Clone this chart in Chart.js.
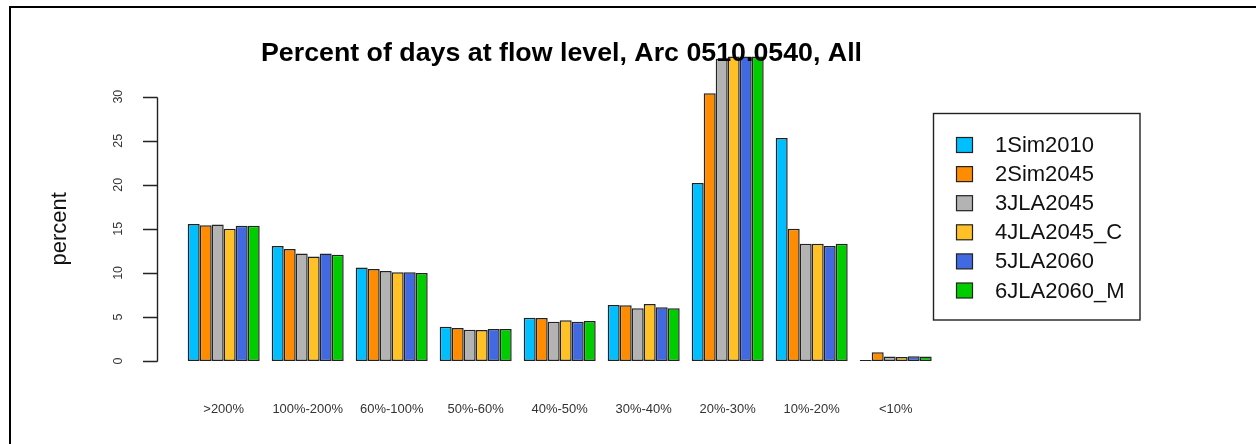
<!DOCTYPE html>
<html>
<head>
<meta charset="utf-8">
<script src="https://cdn.jsdelivr.net/npm/chart.js@4"></script>
<style>
  html, body { margin: 0; padding: 0; background: #ffffff; }
  #wrap { width: 1256px; height: 444px; position: relative; }
</style>
</head>
<body>
<div id="wrap"><canvas id="c" width="1256" height="444"></canvas></div>
<script>
// Flow-level classes and the percent of days in each, per scenario
const categories = [">200%", "100%-200%", "60%-100%", "50%-60%", "40%-50%", "30%-40%", "20%-30%", "10%-20%", "<10%"];
const seriesNames = ["1Sim2010", "2Sim2045", "3JLA2045", "4JLA2045_C", "5JLA2060", "6JLA2060_M"];
const sim2010   = [15.55, 13.05, 10.6, 3.9, 4.92, 6.36, 20.2, 25.3, 0.1];
const sim2045   = [15.4, 12.7, 10.45, 3.75, 4.88, 6.32, 30.4, 15.0, 1.0];
const jla2045   = [15.5, 12.2, 10.2, 3.55, 4.46, 5.98, 34.3, 13.3, 0.5];
const jla2045C  = [15.0, 11.85, 10.07, 3.52, 4.62, 6.47, 34.55, 13.3, 0.45];
const jla2060   = [15.35, 12.2, 10.07, 3.63, 4.46, 6.1, 34.55, 13.05, 0.55];
const jla2060M  = [15.35, 12.05, 10.0, 3.63, 4.54, 5.98, 34.55, 13.3, 0.5];
const yTicks = [0, 5, 10, 15, 20, 25, 30];
const titleText = "Percent of days at flow level, Arc 0510.0540, All";
const yTitle = "percent";

const seriesValues = [sim2010, sim2045, jla2045, jla2045C, jla2060, jla2060M];
const colors = ["#00BFFF", "#FF8C00", "#B3B3B3", "#FFC125", "#4169E1", "#00CD00"];

const FONT = "'Liberation Sans', Arial, Helvetica, sans-serif";

// text drawn with a slight horizontal stretch, as in the original device output
function wideText(ctx, text, x, y, hScale) {
  ctx.save();
  ctx.translate(x, y);
  ctx.scale(hScale, 1);
  ctx.fillText(text, 0, 0);
  ctx.restore();
}

// Axes, labels, title, legend and frame drawn in the style of a base-graphics barplot
const decorations = {
  id: "decorations",
  afterDraw(chart) {
    const ctx = chart.ctx;
    const y = chart.scales.y;
    const x = chart.scales.x;
    ctx.save();

    // outer frame (top and left edges)
    ctx.strokeStyle = "#000";
    ctx.lineWidth = 2;
    ctx.beginPath();
    ctx.moveTo(10, 444);
    ctx.lineTo(10, 7);
    ctx.lineTo(1256, 7);
    ctx.stroke();

    // title
    ctx.fillStyle = "#000";
    ctx.font = "bold 25px " + FONT;
    ctx.textAlign = "center";
    ctx.textBaseline = "middle";
    const tw = ctx.measureText(titleText).width;
    wideText(ctx, titleText, 561.5, 54, 601 / tw);

    // y axis line and ticks
    const axX = 157.5;
    const yTop = y.getPixelForValue(yTicks[yTicks.length - 1]);
    const yBot = y.getPixelForValue(yTicks[0]);
    ctx.strokeStyle = "#222";
    ctx.lineWidth = 1.4;
    ctx.beginPath();
    ctx.moveTo(axX, Math.round(yTop) + 0.5);
    ctx.lineTo(axX, Math.round(yBot) + 0.5);
    yTicks.forEach(v => {
      const py = Math.round(y.getPixelForValue(v)) + 0.5;
      ctx.moveTo(axX, py);
      ctx.lineTo(143, py);
    });
    ctx.stroke();

    // y tick labels, rotated
    ctx.fillStyle = "#333";
    ctx.font = "12.5px " + FONT;
    yTicks.forEach(v => {
      const py = y.getPixelForValue(v);
      ctx.save();
      ctx.translate(119, py);
      ctx.rotate(-Math.PI / 2);
      ctx.textAlign = "center";
      ctx.textBaseline = "middle";
      ctx.fillText(String(v), 0, 0);
      ctx.restore();
    });

    // y axis title
    ctx.save();
    ctx.translate(60, (yTop + yBot) / 2);
    ctx.rotate(-Math.PI / 2);
    ctx.fillStyle = "#111";
    ctx.font = "22px " + FONT;
    ctx.textAlign = "center";
    ctx.textBaseline = "middle";
    ctx.fillText(yTitle, 0, 0);
    ctx.restore();

    // category labels
    ctx.fillStyle = "#333";
    ctx.font = "12px " + FONT;
    ctx.textAlign = "center";
    ctx.textBaseline = "middle";
    categories.forEach((c, i) => {
      wideText(ctx, c, x.getPixelForValue(i), 410, 1.08);
    });

    // legend box
    ctx.strokeStyle = "#222";
    ctx.lineWidth = 1.4;
    ctx.strokeRect(933.5, 113.5, 206.5, 206.5);
    ctx.font = "22px " + FONT;
    ctx.textAlign = "left";
    ctx.textBaseline = "middle";
    seriesNames.forEach((name, i) => {
      const cy = 145 + i * 29.1;
      ctx.fillStyle = colors[i];
      ctx.fillRect(956.5, cy - 7.5, 16, 15);
      ctx.lineWidth = 1.2;
      ctx.strokeStyle = "#222";
      ctx.strokeRect(956.5, cy - 7.5, 16, 15);
      ctx.fillStyle = "#111";
      ctx.fillText(name, 995, cy + 1);
    });

    ctx.restore();
  }
};

new Chart(document.getElementById("c"), {
  type: "bar",
  data: {
    labels: categories,
    datasets: seriesNames.map((name, i) => ({
      label: name,
      data: seriesValues[i],
      backgroundColor: colors[i],
      borderColor: "#222",
      borderWidth: 1.5,
      borderSkipped: false,
      categoryPercentage: 72 / 84,
      barPercentage: 1.0
    }))
  },
  options: {
    responsive: false,
    animation: false,
    devicePixelRatio: 1,
    layout: { padding: { left: 181.7, right: 318.3, top: 52.6, bottom: 83 } },
    plugins: { legend: { display: false }, title: { display: false }, tooltip: { enabled: false } },
    scales: {
      x: { display: false, offset: true, grid: { display: false } },
      y: { display: false, min: 0, max: 35, grid: { display: false } }
    }
  },
  plugins: [decorations]
});
</script>
</body>
</html>
